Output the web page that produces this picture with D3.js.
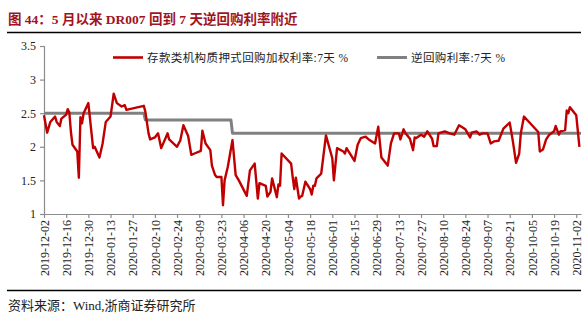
<!DOCTYPE html>
<html>
<head>
<meta charset="utf-8">
<script src="https://cdn.jsdelivr.net/npm/d3@7"></script>
<style>
  html, body { margin: 0; padding: 0; background: #fff; }
  svg { display: block; }
</style>
</head>
<body>
<svg id="chart" width="588" height="323"></svg>
<script>
// 存款类机构质押式回购加权利率 (DR007), daily, %
const rateDates = [
  "2019-12-02","2019-12-04","2019-12-06","2019-12-09","2019-12-10","2019-12-12","2019-12-13",
  "2019-12-16","2019-12-17","2019-12-18","2019-12-19","2019-12-20","2019-12-23","2019-12-24",
  "2019-12-25","2019-12-26","2019-12-27","2019-12-30","2020-01-02","2020-01-03","2020-01-06",
  "2020-01-08","2020-01-10","2020-01-13","2020-01-15","2020-01-17","2020-01-20","2020-01-22",
  "2020-01-23","2020-02-03","2020-02-04","2020-02-06","2020-02-07","2020-02-10","2020-02-12",
  "2020-02-14","2020-02-18","2020-02-19","2020-02-24","2020-02-25","2020-02-26","2020-02-28",
  "2020-03-02","2020-03-04","2020-03-06","2020-03-10","2020-03-11","2020-03-13","2020-03-16",
  "2020-03-17","2020-03-19","2020-03-20","2020-03-23","2020-03-24","2020-03-25","2020-03-27",
  "2020-03-30","2020-04-01","2020-04-03","2020-04-08","2020-04-10","2020-04-13","2020-04-15",
  "2020-04-16","2020-04-20","2020-04-21","2020-04-23","2020-04-24","2020-04-27","2020-04-28",
  "2020-04-29","2020-04-30","2020-05-06","2020-05-07","2020-05-08","2020-05-09","2020-05-11",
  "2020-05-12","2020-05-13","2020-05-15","2020-05-18","2020-05-19","2020-05-20","2020-05-21",
  "2020-05-22","2020-05-25","2020-05-28","2020-06-01","2020-06-02","2020-06-04","2020-06-08",
  "2020-06-09","2020-06-10","2020-06-15","2020-06-17","2020-06-19","2020-06-22","2020-06-24",
  "2020-06-28","2020-06-30","2020-07-02","2020-07-06","2020-07-08","2020-07-10","2020-07-13",
  "2020-07-14","2020-07-16","2020-07-17","2020-07-20","2020-07-22","2020-07-23","2020-07-24",
  "2020-07-27","2020-07-29","2020-07-31","2020-08-03","2020-08-04","2020-08-06","2020-08-07",
  "2020-08-11","2020-08-14","2020-08-17","2020-08-20","2020-08-24","2020-08-27","2020-08-28",
  "2020-08-31","2020-09-02","2020-09-04","2020-09-07","2020-09-09","2020-09-11","2020-09-14",
  "2020-09-17","2020-09-21","2020-09-23","2020-09-25","2020-09-27","2020-09-28","2020-09-30",
  "2020-10-09","2020-10-10","2020-10-12","2020-10-14","2020-10-16","2020-10-19","2020-10-20",
  "2020-10-22","2020-10-23","2020-10-26","2020-10-27","2020-10-28","2020-10-29","2020-11-02",
  "2020-11-04"
];
const rateValues = [
  2.47,2.21,2.37,2.45,2.37,2.31,2.42,
  2.48,2.56,2.51,2.22,2.03,1.93,1.54,
  2.44,2.35,2.50,2.65,1.98,2.00,1.84,
  2.05,2.37,2.45,2.79,2.65,2.60,2.62,
  2.55,2.61,2.52,2.20,2.11,2.14,2.20,
  1.98,2.20,2.11,2.00,2.05,2.09,2.32,
  2.16,1.88,1.90,1.94,2.24,2.05,1.95,
  1.72,1.58,1.55,1.55,1.13,1.50,1.70,
  2.10,1.58,1.50,1.27,1.65,1.75,1.23,
  1.46,1.42,1.26,1.33,1.53,1.25,1.44,
  1.42,1.90,1.75,1.55,1.37,1.54,1.23,
  1.26,1.27,1.48,1.37,1.29,1.42,1.42,
  1.53,1.60,2.17,1.83,1.50,1.98,1.93,
  1.90,1.98,1.79,2.03,2.13,2.15,2.11,
  2.05,2.30,1.84,1.72,2.05,2.20,2.20,
  2.11,2.26,2.21,2.12,1.95,2.14,2.13,
  2.18,2.15,2.23,2.12,2.01,2.01,2.20,
  2.23,2.20,2.18,2.32,2.26,2.14,2.21,
  2.23,2.18,2.20,2.20,2.05,2.08,2.09,
  2.27,2.36,2.08,1.76,1.90,2.20,2.45,
  2.22,1.93,1.96,2.11,2.18,2.23,2.31,
  2.18,2.23,2.25,2.54,2.50,2.59,2.47,
  2.00
];

// 逆回购利率: 7天, %
const repoDates  = ["2019-12-02","2020-02-03","2020-02-04","2020-03-29","2020-03-30","2020-11-05"];
const repoValues = [2.5, 2.5, 2.4, 2.4, 2.2, 2.2];

const yTicks = [1, 1.5, 2, 2.5, 3, 3.5];
const yTickLabels = ["1", "1.5", "2", "2.5", "3", "3.5"];

// Date axis labels, every two weeks
const xTickLabels = [
  "2019-12-02","2019-12-16","2019-12-30","2020-01-13","2020-01-27","2020-02-10","2020-02-24",
  "2020-03-09","2020-03-23","2020-04-06","2020-04-20","2020-05-04","2020-05-18","2020-06-01",
  "2020-06-15","2020-06-29","2020-07-13","2020-07-27","2020-08-10","2020-08-24","2020-09-07",
  "2020-09-21","2020-10-05","2020-10-19","2020-11-02"
];

const seriesNames = ["存款类机构质押式回购加权利率:7天 %", "逆回购利率:7天 %"];
const titleText = "图 44：5 月以来 DR007 回到 7 天逆回购利率附近";
const sourceText = "资料来源：Wind,浙商证券研究所";

const parse = d3.timeParse("%Y-%m-%d");
const fmt = d3.timeFormat("%Y-%m-%d");

const svg = d3.select("#chart");
const W = 588, H = 323;
svg.append("rect").attr("width", W).attr("height", H).attr("fill", "#fff");

const plot = { left: 44, right: 581, top: 46, bottom: 214 };

const x = d3.scaleTime()
  .domain([parse("2019-12-02"), parse("2020-11-05")])
  .range([plot.left, plot.right]);
const y = d3.scaleLinear().domain([1, 3.5]).range([plot.bottom, plot.top]);

const serif = "'Liberation Serif', 'Times New Roman', 'Noto Sans CJK SC', serif";
const cjk = "'Liberation Serif', 'Noto Sans CJK SC', serif";

// Title and rules
svg.append("text")
  .attr("x", 8).attr("y", 24)
  .attr("font-family", cjk)
  .attr("font-weight", "bold")
  .attr("font-size", 13.5)
  .attr("fill", "#a0141e")
  .text(titleText);
svg.append("line").attr("x1", 7).attr("x2", 581).attr("y1", 32.5).attr("y2", 32.5)
  .attr("stroke", "#000").attr("stroke-width", 1.5);
svg.append("line").attr("x1", 7).attr("x2", 581).attr("y1", 290.5).attr("y2", 290.5)
  .attr("stroke", "#000").attr("stroke-width", 1.5);

// Footer
svg.append("text")
  .attr("x", 8).attr("y", 310)
  .attr("font-family", cjk)
  .attr("font-size", 13)
  .attr("fill", "#222")
  .text(sourceText);

// Y axis
const yAxis = d3.axisLeft(y)
  .tickValues(yTicks)
  .tickFormat((d, i) => yTickLabels[i])
  .tickSize(4)
  .tickPadding(4);
const gy = svg.append("g").attr("transform", `translate(${plot.left},0)`).call(yAxis);
gy.select(".domain").attr("stroke", "#8c8c8c").attr("stroke-width", 1.2);
gy.selectAll(".tick line").attr("stroke", "#8c8c8c").attr("stroke-width", 1.2);
gy.selectAll(".tick text")
  .attr("font-family", serif).attr("font-size", 12).attr("fill", "#222");

// X axis
const xAxis = d3.axisBottom(x)
  .tickValues(xTickLabels.map(parse))
  .tickFormat(fmt)
  .tickSize(4)
  .tickSizeOuter(0);
const gx = svg.append("g").attr("transform", `translate(0,${plot.bottom})`).call(xAxis);
gx.select(".domain").attr("stroke", "#8c8c8c").attr("stroke-width", 1.2);
gx.selectAll(".tick line").attr("stroke", "#8c8c8c").attr("stroke-width", 1.2);
gx.selectAll(".tick text")
  .attr("font-family", serif).attr("font-size", 12).attr("fill", "#222")
  .attr("text-anchor", "end")
  .attr("transform", "translate(0,6) rotate(-90)")
  .attr("x", 0).attr("y", 0).attr("dy", "0.35em");

// Lines
const rateData = rateDates.map((d, i) => ({ date: parse(d), value: rateValues[i] }));
const repoData = repoDates.map((d, i) => ({ date: parse(d), value: repoValues[i] }));
const lineGen = d3.line().x(d => x(d.date)).y(d => y(d.value));

svg.append("path").datum(repoData)
  .attr("d", lineGen)
  .attr("fill", "none").attr("stroke", "#808080").attr("stroke-width", 3)
  .attr("stroke-linejoin", "round");
svg.append("path").datum(rateData)
  .attr("d", lineGen)
  .attr("fill", "none").attr("stroke", "#c00000").attr("stroke-width", 2.4)
  .attr("stroke-linejoin", "round");

// Legend
const legend = [
  { name: seriesNames[0], color: "#c00000", width: 2.6, x: 113 },
  { name: seriesNames[1], color: "#808080", width: 3, x: 377 }
];
const lg = svg.append("g");
legend.forEach(it => {
  lg.append("line")
    .attr("x1", it.x).attr("x2", it.x + 30).attr("y1", 57.5).attr("y2", 57.5)
    .attr("stroke", it.color).attr("stroke-width", it.width);
  lg.append("text")
    .attr("x", it.x + 34).attr("y", 61.5)
    .attr("font-family", cjk).attr("font-size", 11.5)
    .attr("letter-spacing", 0.4).attr("fill", "#222")
    .text(it.name);
});
</script>
</body>
</html>
